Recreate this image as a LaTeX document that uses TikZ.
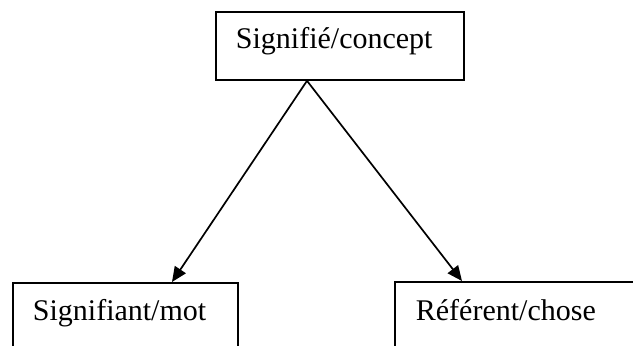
\documentclass[tikz,border=0pt]{standalone}
\usepackage{fontspec}
\setmainfont{Liberation Serif}
\usepackage{tikz}
\usetikzlibrary{arrows.meta,positioning,calc}

\begin{document}
\begin{tikzpicture}[
    x=1pt, y=-1pt,
    box/.style={draw, rectangle, line width=1.8pt, anchor=north west, align=left,
        inner xsep=20pt, inner ysep=0pt, font=\fontsize{30}{36}\selectfont},
    arrow/.style={-{Triangle[length=15pt, width=13pt]}, line width=1.7pt}
]

% Frame
\clip (0, 0) rectangle (633, 346);

% Top: concept
\node[box, text width=208pt, text height=37pt, text depth=31pt] (concept) at (215, 11) {Signifi\'e/concept};

% Bottom: word and thing
\node[box, text width=185pt, text height=38pt, text depth=40pt] (mot) at (12, 282) {Signifiant/mot};
\node[box, inner xsep=21pt, text width=240pt, text height=39pt, text depth=40pt] (chose) at (394, 281) {R\'ef\'erent/chose};

% Arrows
\coordinate (apex) at ($(concept.south west)+(92, 0)$);
\draw[arrow] (apex) -- ($(mot.north west)+(160, 0)$);
\draw[arrow] (apex) -- ($(chose.north west)+(68, 0)$);

\end{tikzpicture}
\end{document}
